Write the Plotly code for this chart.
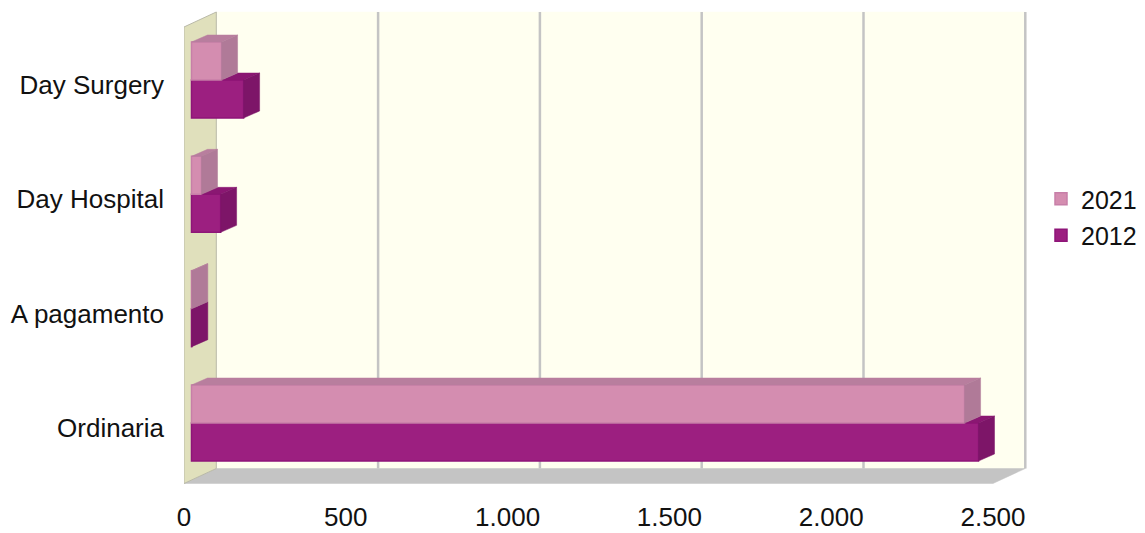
import plotly.graph_objects as go

# ---- data ----
categories = ["Ordinaria", "A pagamento", "Day Hospital", "Day Surgery"]
values_2021 = [2389, 1, 31, 93]
values_2012 = [2432, 1, 90, 161]
x_ticks = [0, 500, 1000, 1500, 2000, 2500]

# ---- colours ----
C21 = dict(front="#D48DB0", side="#B07A98", top="#B87E9E", legend="#C77FA8")
C12 = dict(front="#9C1F80", side="#7D1568", top="#8A1772", legend="#8E1578")
WALL = "#E0E0BC"
BACK = "#FFFFF0"
FLOOR = "#C4C4C4"
GRID = "#C4C4C4"
TEXT = "#111111"

# ---- geometry ----
W, H = 1145, 533
L, R, T, B = 184, 1028, 10, 485
PX_PER_X = 809 / 2500          # pixels per unit on the x axis
PX_PER_Y = 114.33              # pixels per category band
X_MAX = (R - L) / PX_PER_X

WALL_DX = 32.3 / PX_PER_X      # depth of the chart box, in axis units
WALL_DY = 15 / PX_PER_Y
BAR_BASE = 7.5 / PX_PER_X      # bars stand slightly behind the front plane
BAR_DX = 16 / PX_PER_X         # depth of the bars, in axis units
BAR_DY = 7 / PX_PER_Y
BAR_H = 38 / PX_PER_Y

LABEL_ZERO_PX, BAR_ZERO_PX = 428, 423   # pixel row of the first category
y_range = [(LABEL_ZERO_PX - B) / PX_PER_Y, (LABEL_ZERO_PX - T) / PX_PER_Y]
y2_range = [(BAR_ZERO_PX - B) / PX_PER_Y, (BAR_ZERO_PX - T) / PX_PER_Y]
FRONT_BOTTOM = (LABEL_ZERO_PX - 483.5) / PX_PER_Y
FRONT_TOP = (LABEL_ZERO_PX - 27) / PX_PER_Y

fig = go.Figure()


def poly(xs, ys, color, yaxis="y", line_color=None, width=0):
    fig.add_trace(go.Scatter(
        x=xs + xs[:1], y=ys + ys[:1], mode="lines", fill="toself", fillcolor=color,
        line=dict(color=line_color or color, width=width if width else 0.5),
        hoverinfo="skip", showlegend=False, yaxis=yaxis, xaxis="x"))


# chart box: back wall, floor, left wall
x_end = x_ticks[-1]
poly([WALL_DX, WALL_DX + x_end, WALL_DX + x_end, WALL_DX],
     [FRONT_BOTTOM + WALL_DY] * 2 + [FRONT_TOP + WALL_DY] * 2, BACK)
poly([0, x_end, x_end + WALL_DX, WALL_DX],
     [FRONT_BOTTOM, FRONT_BOTTOM, FRONT_BOTTOM + WALL_DY, FRONT_BOTTOM + WALL_DY], FLOOR)
poly([0, WALL_DX, WALL_DX, 0],
     [FRONT_BOTTOM, FRONT_BOTTOM + WALL_DY, FRONT_TOP + WALL_DY, FRONT_TOP], WALL,
     line_color="#B9B9A8", width=1)

# gridlines on the back wall
for t in x_ticks[1:]:
    fig.add_trace(go.Scatter(
        x=[t + WALL_DX, t + WALL_DX], y=[FRONT_BOTTOM + WALL_DY, FRONT_TOP + WALL_DY],
        mode="lines", line=dict(color=GRID, width=2.5), hoverinfo="skip", showlegend=False))

# front faces are real bars
for name, vals, c in (("2012", values_2012, C12), ("2021", values_2021, C21)):
    fig.add_trace(go.Bar(
        name=name, x=vals, y=list(range(len(categories))), base=BAR_BASE, orientation="h",
        marker=dict(color=c["front"], line=dict(color=c["legend"], width=1.5)),
        customdata=categories, hovertemplate="%{customdata}: %{x}<extra>" + name + "</extra>",
        legendrank=1 if name == "2021" else 2, legendgroup=name,
        xaxis="x", yaxis="y2"))


def faces(i, value, low, colors, top_from=None):
    xr = BAR_BASE + value
    y0, y1 = low, low + BAR_H
    start = BAR_BASE if top_from is None else BAR_BASE + top_from
    if xr > start:
        poly([start, xr, xr + BAR_DX, start + BAR_DX],
             [y1, y1, y1 + BAR_DY, y1 + BAR_DY], colors["top"], yaxis="y2")
    poly([xr, xr + BAR_DX, xr + BAR_DX, xr],
         [y0, y0 + BAR_DY, y1 + BAR_DY, y1], colors["side"], yaxis="y2")


for i in range(len(categories)):
    faces(i, values_2012[i], i - BAR_H, C12, top_from=values_2021[i])
    faces(i, values_2021[i], i, C21)

fig.update_layout(
    width=W, height=H, margin=dict(l=L, r=W - R, t=T, b=H - B, autoexpand=False),
    paper_bgcolor="white", plot_bgcolor="white",
    separators=",.",
    barmode="group", bargap=1 - 2 * BAR_H, bargroupgap=0,
    font=dict(family="Liberation Sans, Arial, sans-serif", size=26, color=TEXT),
    xaxis=dict(range=[0, X_MAX], tickmode="array", tickvals=x_ticks, tickformat=",d",
               showgrid=False, zeroline=False, showline=False, ticks="",
               ticklabelstandoff=14, automargin=False),
    yaxis=dict(range=y_range, tickmode="array", tickvals=list(range(len(categories))),
               ticktext=categories, showgrid=False, zeroline=False, showline=False,
               ticks="", ticklabelstandoff=19, automargin=False),
    yaxis2=dict(range=y2_range, overlaying="y", side="left", showticklabels=False,
                showgrid=False, zeroline=False, showline=False, ticks=""),
    legend=dict(x=(1041 - L) / (R - L), y=(B - 217) / (B - T), xanchor="left", yanchor="middle",
                bgcolor="rgba(0,0,0,0)", tracegroupgap=1, font=dict(size=25)),
)

fig.write_html("out.html", config=dict(displayModeBar=False),
               post_script="document.body.style.margin='0';document.body.style.overflow='hidden';")
